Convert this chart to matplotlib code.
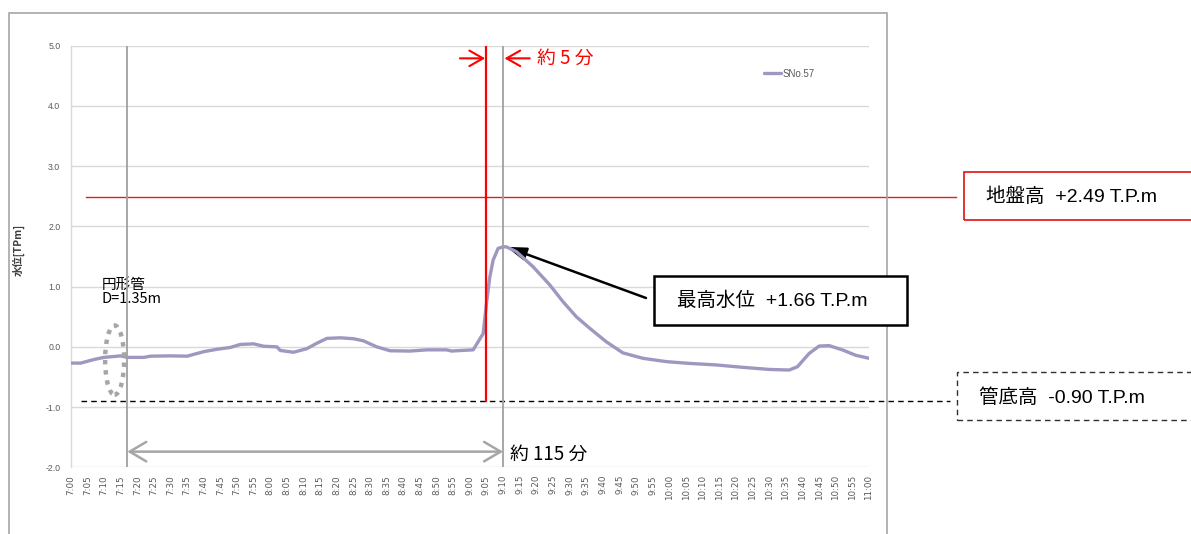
import matplotlib
matplotlib.use("Agg")
import matplotlib.pyplot as plt
from matplotlib.patches import Rectangle, Ellipse

plt.rcParams['font.family'] = ['Liberation Sans', 'Noto Sans CJK JP', 'DejaVu Sans']

# ---- data: minutes after 7:00 and water level [T.P.m] ----
minutes = [0, 3, 7, 10, 13, 15, 17, 22, 24, 30, 35, 40, 44, 48, 51, 55, 58, 62, 63,
           67, 71, 74, 77, 81, 85, 88, 92, 96, 102, 107, 113, 114.5, 117.5, 121,
           122.5, 124, 125, 126, 127, 128.5, 130, 131, 134, 139, 144, 148, 152, 156,
           161, 166, 172, 179, 186, 194, 202, 210, 216, 218.5, 222, 225, 228, 232,
           236, 240]
level = [-0.27, -0.27, -0.21, -0.175, -0.16, -0.15, -0.175, -0.175, -0.155, -0.15,
         -0.155, -0.08, -0.04, -0.01, 0.04, 0.05, 0.01, 0.0, -0.06, -0.09, -0.03,
         0.06, 0.14, 0.15, 0.135, 0.10, 0.0, -0.065, -0.07, -0.05, -0.05, -0.07,
         -0.06, -0.05, 0.085, 0.22, 0.72, 1.16, 1.44, 1.635, 1.66, 1.66, 1.58, 1.33,
         1.03, 0.75, 0.50, 0.31, 0.085, -0.10, -0.19, -0.245, -0.275, -0.30, -0.34,
         -0.375, -0.385, -0.33, -0.11, 0.013, 0.02, -0.05, -0.14, -0.19]
series_name = "SNo.57"

ground_level = 2.49      # 地盤高
pipe_bottom = -0.90      # 管底高
peak_level = 1.66        # 最高水位
start_min = 17           # start of the 約115分 span
rise_min = 125           # rapid rise (red marker)
peak_min = 130           # peak time

tick_minutes = list(range(0, 241, 5))
tick_labels = [f"{7 + m // 60}:{m % 60:02d}" for m in tick_minutes]
y_ticks = [-2.0, -1.0, 0.0, 1.0, 2.0, 3.0, 4.0, 5.0]

W, H = 1191, 534
fig = plt.figure(figsize=(W / 100, H / 100), dpi=100)


def fx(x):
    return x / W


def fy(y):
    return 1 - y / H


ax = fig.add_axes([fx(70.7), fy(467.3), (869 - 70.7) / W, (467.3 - 45.7) / H])
ax.set_xlim(0, 240)
ax.set_ylim(-2, 5)

grid_c = '#d9d9d9'
txt_c = '#595959'
for s in ['top', 'right', 'bottom']:
    ax.spines[s].set_visible(False)
ax.spines['left'].set_color(grid_c)
ax.spines['left'].set_linewidth(1.0)
ax.set_yticks(y_ticks)
ax.set_yticklabels([f"{v:.1f}" for v in y_ticks])
ax.yaxis.grid(True, color=grid_c, linewidth=1.0)
ax.set_axisbelow(True)
ax.tick_params(axis='y', length=0, pad=7.5, labelsize=6.3, labelcolor=txt_c)
ax.set_xticks(tick_minutes)
ax.set_xticklabels(tick_labels, rotation=90, fontfamily='DejaVu Sans')
ax.tick_params(axis='x', length=0, pad=5.5, labelsize=6.3, labelcolor=txt_c)
ax.set_ylabel("水位[TPm]", fontsize=7.5, fontweight='bold', color='#404040',
              family=['Noto Sans CJK JP', 'DejaVu Sans'])
ax.yaxis.set_label_coords(-0.057, 0.515)

# water level series
line, = ax.plot(minutes, level, color='#a096c0', linewidth=2.4, zorder=4,
                solid_joinstyle='round', solid_capstyle='round')
leg = ax.legend([line], [series_name], loc='center left',
                bbox_to_anchor=(0.868, 0.934), frameon=False, fontsize=7,
                handlelength=1.8, handletextpad=0.1, borderpad=0, borderaxespad=0,
                labelcolor=txt_c)

# reference levels
ax.plot([4.6, 266.1], [ground_level, ground_level], color='#e02020', linewidth=1.0,
        clip_on=False, zorder=3)
ax.plot([3.1, 264.3], [pipe_bottom, pipe_bottom], color='black', linewidth=1.0,
        linestyle=(0, (4, 3)), clip_on=False, zorder=3)

# time markers
ax.plot([start_min, start_min], [-2, 5], color='#a0a0a0', linewidth=1.3, zorder=6)
ax.plot([peak_min, peak_min], [-2, 5], color='#a0a0a0', linewidth=1.3, zorder=6)
ax.plot([rise_min, rise_min], [pipe_bottom, 5], color='#ff0000', linewidth=1.6, zorder=6)

# 約5分 arrows
for x0, x1 in [(117.0, rise_min), (138.0, peak_min)]:
    ax.annotate('', xy=(x1, 4.79), xytext=(x0, 4.79),
                arrowprops=dict(arrowstyle='->,head_length=0.7,head_width=0.4',
                                color='#ff0000', lw=1.5, mutation_scale=14,
                                shrinkA=0, shrinkB=1))
ax.text(140.2, 4.79, "約 5 分", color='#ff0000', fontsize=13.5, va='center',
        ha='left', family=['Noto Sans CJK JP'])

# 約115分 span
ax.annotate('', xy=(peak_min, -1.74), xytext=(start_min, -1.74),
            arrowprops=dict(arrowstyle='<->,head_length=0.85,head_width=0.5',
                            color='#a6a6a6', lw=1.8, mutation_scale=14,
                            shrinkA=0, shrinkB=0), annotation_clip=False)
ax.text(132.0, -1.78, "約 115 分", color='black', fontsize=13.5, va='center',
        ha='left', family=['Noto Sans CJK JP'])

# pipe marker
ax.add_patch(Ellipse((13.2, -0.22), 5.7, 1.15, fill=False, edgecolor='#a6a6a6',
                     linewidth=3.2, linestyle=(0, (1, 1.3)), zorder=5))
ax.text(9.3, 1.14, "円形管\nD=1.35m", fontsize=10.5, va='top', ha='left',
        linespacing=1.0, family=['Noto Sans CJK JP'], zorder=5)

# peak annotation
ax.annotate('', xy=(peak_min + 1, peak_level), xytext=(646, H - 298),
            textcoords='figure pixels',
            arrowprops=dict(arrowstyle='-|>,head_length=0.85,head_width=0.28',
                            color='black', lw=1.8, mutation_scale=14,
                            shrinkA=0, shrinkB=0), annotation_clip=False)

# label boxes
fig.patches.append(Rectangle((fx(654.3), fy(324.7)), (906.7 - 654.3) / W,
                             (324.7 - 275.7) / H, transform=fig.transFigure,
                             fill=True, facecolor='white', edgecolor='black',
                             linewidth=1.8, zorder=10))
fig.text(fx(676.7), fy(300.5), "最高水位  +1.66 T.P.m", fontsize=14, va='center',
         ha='left', zorder=11)

fig.patches.append(Rectangle((fx(964.3), fy(220)), (1200 - 964.3) / W,
                             (220 - 171.7) / H, transform=fig.transFigure,
                             fill=False, edgecolor='#e01010', linewidth=1.2, zorder=10))
fig.text(fx(986), fy(196.5), "地盤高  +2.49 T.P.m", fontsize=14, va='center',
         ha='left', zorder=11)

fig.patches.append(Rectangle((fx(957.3), fy(420)), (1200 - 957.3) / W,
                             (420 - 371.7) / H, transform=fig.transFigure,
                             fill=False, edgecolor='#303030', linewidth=1.0,
                             linestyle=(0, (4, 3)), zorder=10))
fig.text(fx(979.3), fy(397.5), "管底高  -0.90 T.P.m", fontsize=14, va='center',
         ha='left', zorder=11)

# chart frame
fig.patches.append(Rectangle((fx(9), fy(545)), (887 - 9) / W, (545 - 13) / H,
                             transform=fig.transFigure, fill=False,
                             edgecolor='#a6a6a6', linewidth=1.2, zorder=0))

fig.savefig("out.png", dpi=100)
